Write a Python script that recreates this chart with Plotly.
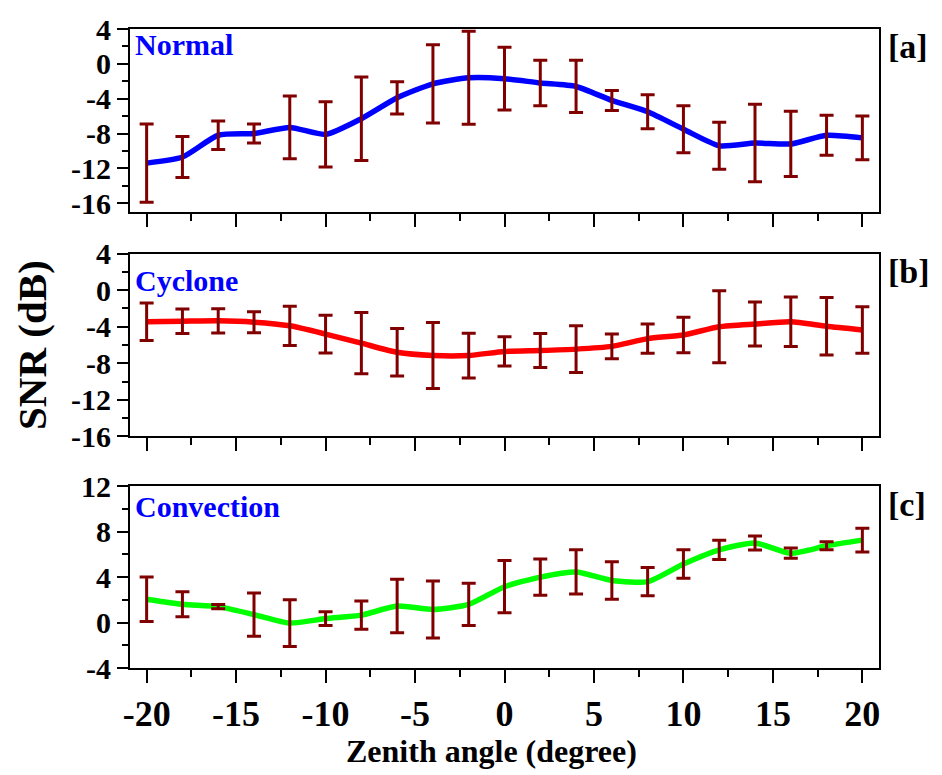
import plotly.graph_objects as go
from plotly.subplots import make_subplots

# Zenith angle (degree)
angle = [-20, -18, -16, -14, -12, -10, -8, -6, -4, -2, 0, 2, 4, 6, 8, 10, 12, 14, 16, 18, 20]

# Mean SNR (dB) and standard deviation for each condition
normal_snr = [-11.4, -10.7, -8.2, -8.0, -7.3, -8.1, -6.3, -3.9, -2.3, -1.6, -1.7,
              -2.2, -2.6, -4.2, -5.5, -7.5, -9.4, -9.1, -9.2, -8.2, -8.5]
normal_std = [4.5, 2.35, 1.65, 1.1, 3.6, 3.75, 4.8, 1.85, 4.5, 5.35, 3.6,
              2.6, 3.0, 1.15, 1.95, 2.7, 2.7, 4.45, 3.75, 2.3, 2.5]

cyclone_snr = [-3.45, -3.4, -3.35, -3.5, -3.9, -4.8, -5.8, -6.8, -7.15, -7.15, -6.7,
               -6.6, -6.45, -6.15, -5.3, -4.9, -4.0, -3.7, -3.45, -3.95, -4.35]
cyclone_std = [2.05, 1.33, 1.33, 1.15, 2.15, 2.07, 3.35, 2.6, 3.6, 2.45, 1.6,
               1.85, 2.55, 1.35, 1.6, 1.95, 3.95, 2.4, 2.7, 3.15, 2.55]

convection_snr = [2.05, 1.6, 1.4, 0.7, -0.05, 0.35, 0.65, 1.45, 1.15, 1.6, 3.15,
                  4.0, 4.45, 3.7, 3.6, 5.15, 6.4, 7.0, 6.1, 6.75, 7.25]
convection_std = [1.95, 1.1, 0.18, 1.9, 2.05, 0.6, 1.25, 2.35, 2.5, 1.85, 2.3,
                  1.6, 1.95, 1.65, 1.25, 1.25, 0.85, 0.62, 0.45, 0.35, 1.05]

panel_names = ["Normal", "Cyclone", "Convection"]
panel_tags = ["[a]", "[b]", "[c]"]
line_colors = ["#0000FF", "#FF0000", "#00FF00"]
y_ranges = [[-17, 4], [-16, 4], [-4, 12]]
y_ticks = [[-16, -12, -8, -4, 0, 4], [-16, -12, -8, -4, 0, 4], [-4, 0, 4, 8, 12]]

x_ticks = [-20, -15, -10, -5, 0, 5, 10, 15, 20]

FONT = "Liberation Serif, Times New Roman, serif"
ERR_COLOR = "#800000"


def tick_text(vals):
    # plain hyphen-minus for negative numbers
    return [str(v) for v in vals]


fig = make_subplots(rows=3, cols=1, shared_xaxes=False)

series = [(normal_snr, normal_std), (cyclone_snr, cyclone_std), (convection_snr, convection_std)]
for i, (snr, std) in enumerate(series):
    row = i + 1
    fig.add_trace(go.Scatter(
        x=angle, y=snr, mode="lines",
        line=dict(color=line_colors[i], width=5.5, shape="spline", smoothing=0.6),
        showlegend=False, hoverinfo="skip"), row=row, col=1)
    fig.add_trace(go.Scatter(
        x=angle, y=snr, mode="markers",
        marker=dict(size=1, color=ERR_COLOR),
        error_y=dict(type="data", array=std, visible=True,
                     color=ERR_COLOR, thickness=3, width=7),
        showlegend=False), row=row, col=1)

domains = [[0.7138, 1.0], [0.3624, 0.6485], [0.0, 0.2846]]
for i in range(3):
    ax = "" if i == 0 else str(i + 1)
    fig.update_layout(**{
        f"xaxis{ax}": dict(
            domain=[0, 1], range=[-20.93, 20.93],
            tickmode="array", tickvals=x_ticks, ticktext=tick_text(x_ticks),
            showticklabels=(i == 2),
            ticks="outside", ticklen=13, tickwidth=2, tickcolor="black",
            minor=dict(dtick=2.5, tick0=0, ticks="outside", ticklen=7,
                       tickwidth=2, tickcolor="black"),
            showline=True, linecolor="black", linewidth=2, mirror=True,
            showgrid=False, zeroline=False,
            tickfont=dict(family=FONT, size=36, color="black", weight="bold"),
        ),
        f"yaxis{ax}": dict(
            domain=domains[i], range=y_ranges[i],
            tickmode="array", tickvals=y_ticks[i], ticktext=tick_text(y_ticks[i]),
            ticks="outside", ticklen=11, tickwidth=2, tickcolor="black",
            minor=dict(dtick=2, tick0=0, ticks="outside", ticklen=6,
                       tickwidth=2, tickcolor="black"),
            showline=True, linecolor="black", linewidth=2, mirror=True,
            showgrid=False, zeroline=False,
            tickfont=dict(family=FONT, size=30, color="black", weight="bold"),
        ),
    })

annotations = []
name_y = [0.915, 0.855, 0.89]
tag_y = [0.905, 0.9, 0.9]
for i in range(3):
    ax = "" if i == 0 else str(i + 1)
    annotations.append(dict(
        text=f"<b>{panel_names[i]}</b>", xref=f"x{ax} domain", yref=f"y{ax} domain",
        x=0.004, y=name_y[i], xanchor="left", yanchor="middle", showarrow=False,
        font=dict(family=FONT, size=30, color="#0000FF")))
    annotations.append(dict(
        text=f"<b>{panel_tags[i]}</b>", xref=f"x{ax} domain", yref=f"y{ax} domain",
        x=1.01, y=tag_y[i], xanchor="left", yanchor="middle", showarrow=False,
        font=dict(family=FONT, size=34, color="black")))

annotations.append(dict(
    text="<b>SNR (dB)</b>", xref="paper", yref="paper",
    x=-0.13, y=0.505, xanchor="center", yanchor="middle", textangle=-90,
    showarrow=False, font=dict(family=FONT, size=41, color="black")))
annotations.append(dict(
    text="<b>Zenith angle (degree)</b>", xref="paper", yref="paper",
    x=0.483, y=-0.13, xanchor="center", yanchor="middle",
    showarrow=False, font=dict(family=FONT, size=32, color="black")))

fig.update_layout(
    width=942, height=775,
    margin=dict(l=130, r=63, t=25, b=107),
    paper_bgcolor="white", plot_bgcolor="white",
    annotations=annotations,
    font=dict(family=FONT, color="black"),
)

fig.write_html("out.html")
